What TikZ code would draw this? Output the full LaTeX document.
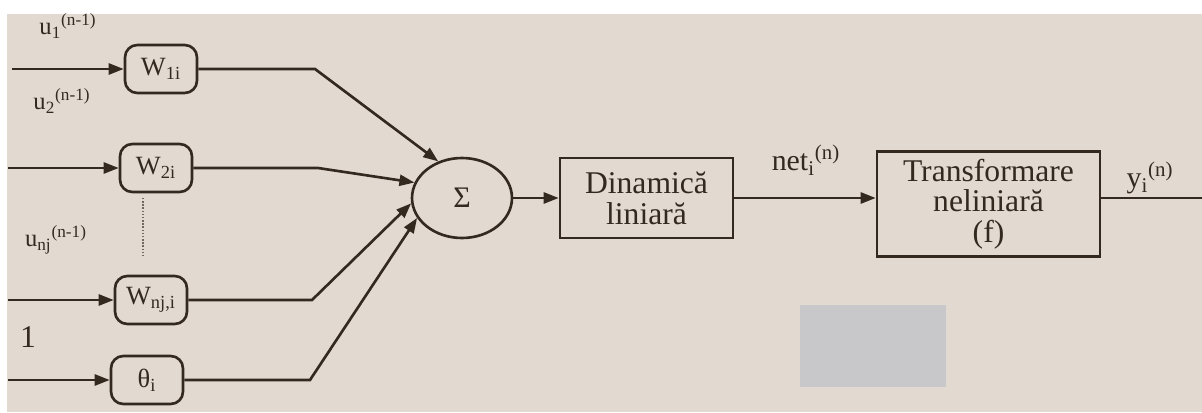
\documentclass[tikz,border=0pt]{standalone}
\usepackage{fontspec}
\setmainfont{Liberation Serif}
\usepackage{tikz}
\usetikzlibrary{arrows.meta,positioning,shapes.geometric}
\definecolor{ink}{HTML}{33291F}
\definecolor{paper}{HTML}{E2DAD1}
\definecolor{patch}{HTML}{C8C8CA}
\tikzset{
  wbox/.style={draw=ink, line width=1.5pt, rounded corners=7pt, minimum width=1.44cm,
    minimum height=0.96cm, font=\fontsize{15}{17}\selectfont, text=ink},
  blockbox/.style={draw=ink, line width=1.5pt, align=center, text=ink,
    font=\fontsize{18}{17.5}\selectfont},
  sumnode/.style={ellipse, draw=ink, line width=1.5pt, minimum width=2cm,
    minimum height=1.6cm, font=\fontsize{17}{19}\selectfont, text=ink},
  lbl/.style={text=ink, font=\fontsize{14}{16}\selectfont, inner sep=0pt},
  arr/.style={-{Triangle[length=3mm,width=2.2mm]}, line width=1.5pt, draw=ink},
  wire/.style={line width=1.5pt, draw=ink}
}

\begin{document}
\begin{tikzpicture}[x=0.02cm, y=-0.02cm]
        \useasboundingbox (0,0) rectangle (1202,412);
        \fill[paper] (7,14) rectangle (1202,412);
        \fill[patch] (800,305) rectangle (946,387);
        % weights
        \node[wbox] (w1) at (161,69) {W\textsubscript{1i}};
        \node[wbox] (w2) at (156,168) {W\textsubscript{2i}};
        \node[wbox] (wnj) at (151,300) {W\textsubscript{nj,i}};
        \node[wbox] (theta) at (147,380) {θ\textsubscript{i}};
        \draw[ink!70, densely dotted, line width=0.8pt] (143,198) -- (143,257);
        % inputs
        \node[lbl] (u1) at (68,26) {u\textsubscript{1}\textsuperscript{(n-1)}};
        \node[lbl] (u2) at (62,101) {u\textsubscript{2}\textsuperscript{(n-1)}};
        \node[lbl] (unj) at (56,240) {u\textsubscript{nj}\textsuperscript{(n-1)}};
        \node[lbl, font=\fontsize{18}{20}\selectfont] (one) at (28,337) {1};
        \coordinate (in1) at (12,69);
        \coordinate (in2) at (8,168);
        \coordinate (innj) at (8,300);
        \coordinate (inth) at (8,380);
        \draw[arr] (in1) -- (w1);
        \draw[arr] (in2) -- (w2);
        \draw[arr] (innj) -- (wnj);
        \draw[arr] (inth) -- (theta);
        % summation and blocks
        \node[sumnode] (sum) at (462,198) {Σ};
        \node[blockbox, minimum width=3.46cm, minimum height=1.6cm] (lin) at (646.5,198) {Dinamică\\liniară};
        \node[blockbox, minimum width=4.46cm, minimum height=2.1cm] (nonlin) at (988.5,204) {Transformare\\neliniară\\(f)};
        \coordinate (b1) at (315,69);
        \coordinate (b2) at (318,168);
        \coordinate (bnj) at (312,300);
        \coordinate (bth) at (310,380);
        \draw[arr] (w1) -- (b1) -- (sum.123);
        \draw[arr] (w2) -- (b2) -- (sum.162);
        \draw[arr] (wnj) -- (bnj) -- (sum.186);
        \draw[arr] (theta) -- (bth) -- (sum.204);
        \draw[arr] (sum) -- (lin);
        \draw[arr] (lin) -- (nonlin.west |- lin);
        \node[lbl, font=\fontsize{17}{19}\selectfont] (net) at (806,160) {net\textsubscript{i}\textsuperscript{(n)}};
        \coordinate (out) at (1202,198);
        \draw[wire] (nonlin.east |- out) -- (out);
        \node[lbl, font=\fontsize{17}{19}\selectfont] (y) at (1150,178) {y\textsubscript{i}\textsuperscript{(n)}};
      \end{tikzpicture}
\end{document}
